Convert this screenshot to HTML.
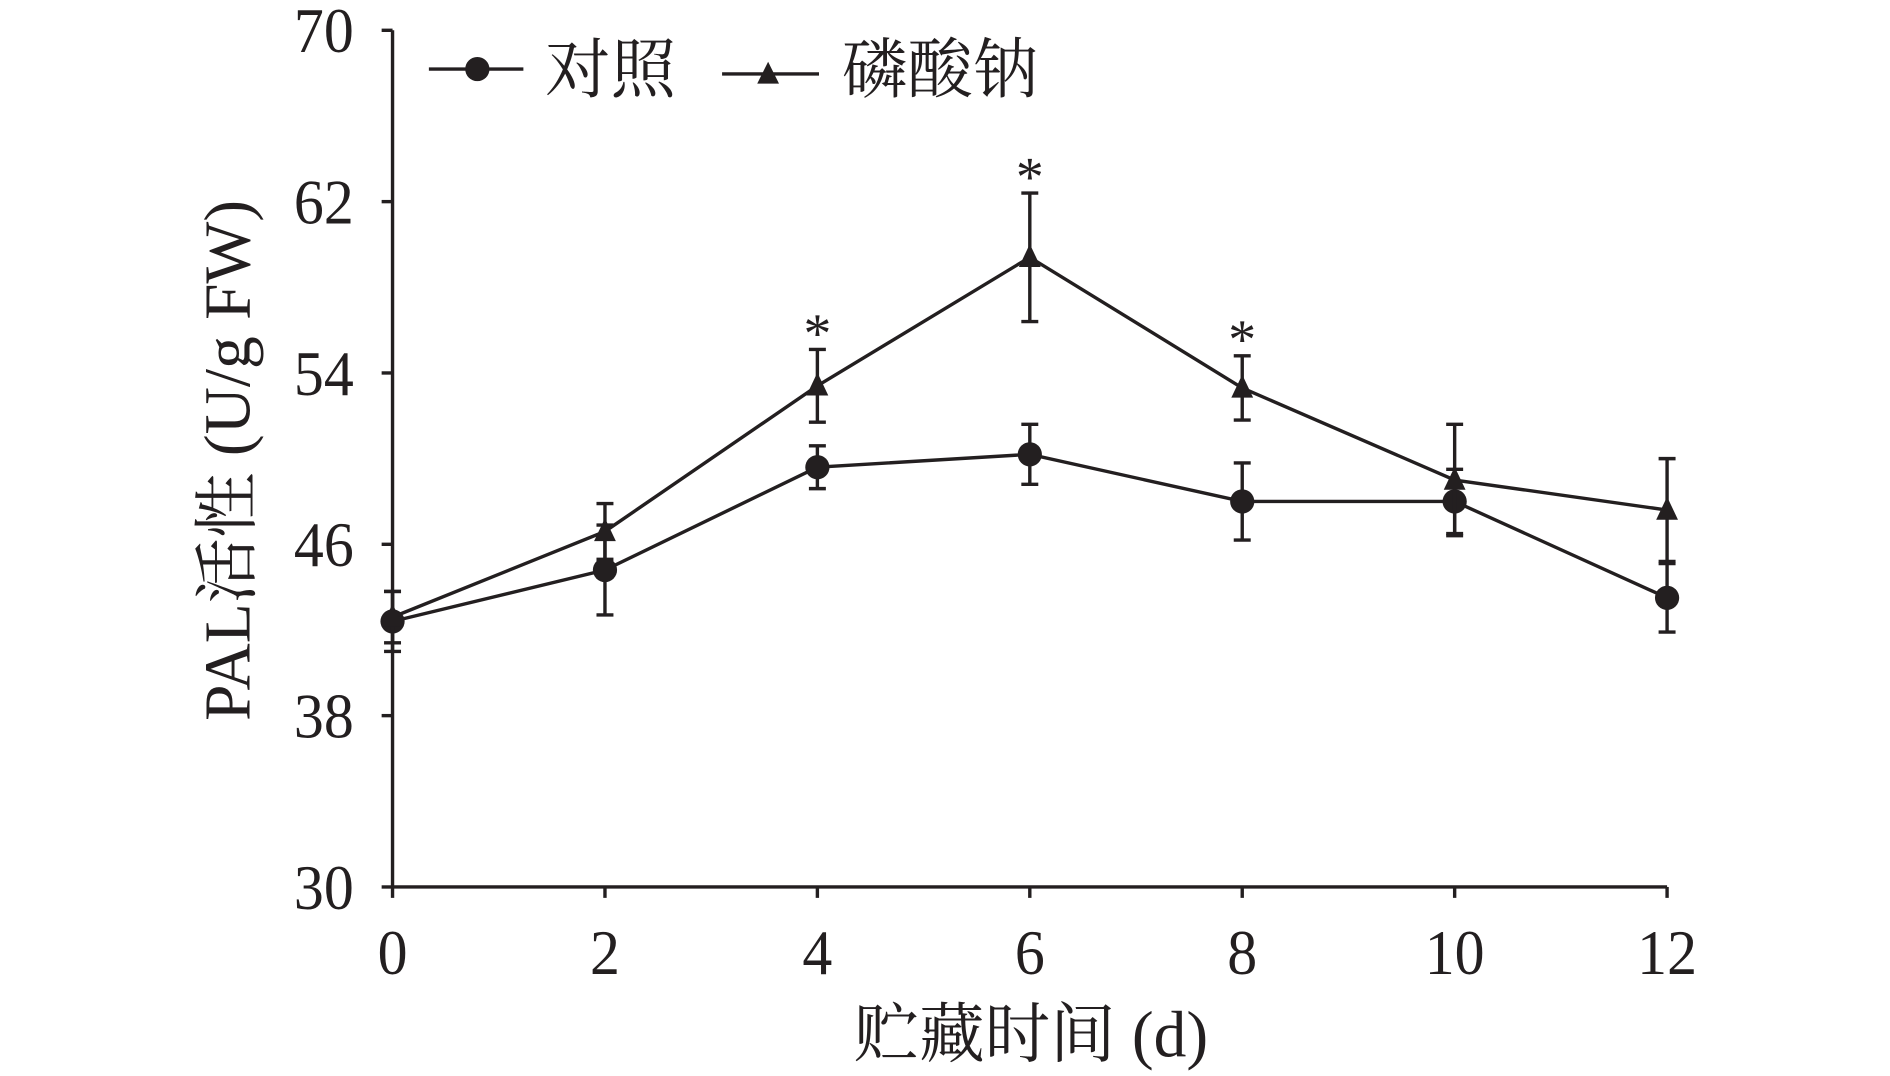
<!DOCTYPE html>
<html><head><meta charset="utf-8"><style>
html,body{margin:0;padding:0;background:#fff;width:1890px;height:1076px;overflow:hidden}
svg{display:block}
text{font-family:"Liberation Serif","Noto Serif CJK SC","Noto Sans CJK SC",serif;fill:#231f20}
</style></head><body>
<svg id="chart" width="1890" height="1076" viewBox="0 0 1560 888" preserveAspectRatio="none" xmlns="http://www.w3.org/2000/svg"></svg>
<script>
const days = [0, 2, 4, 6, 8, 10, 12];
const controlValues = [42.4, 44.8, 49.6, 50.2, 48.0, 48.0, 43.5];
const controlErrors = [1.4, 2.1, 1.0, 1.4, 1.8, 1.5, 1.6];
const phosphateValues = [42.6, 46.6, 53.4, 59.4, 53.3, 49.0, 47.6];
const phosphateErrors = [1.2, 1.3, 1.7, 3.0, 1.5, 2.6, 2.4];
const significant = [false, false, true, true, true, false, false];
const yTicks = [30, 38, 46, 54, 62, 70];
const xTicks = [0, 2, 4, 6, 8, 10, 12];

const svg = document.getElementById('chart');
const NS = 'http://www.w3.org/2000/svg';
const X0 = 324, X1 = 1376, Y0 = 732, Y1 = 25;
const xs = d => X0 + (d - 0) / 12 * (X1 - X0);
const ys = v => Y0 - (v - 30) / 40 * (Y0 - Y1);
const C = '#231f20';
function mk(tag, attrs, parent) {
  const e = document.createElementNS(NS, tag);
  for (const k in attrs) e.setAttribute(k, attrs[k]);
  (parent || svg).appendChild(e);
  return e;
}
let a = mk('line', {x1: X0, y1: Y1, x2: X0, y2: Y0, stroke: C, 'stroke-width': 2.8});


a = mk('line', {x1: X0, y1: Y0, x2: X1, y2: Y0, stroke: C, 'stroke-width': 2.8});


yTicks.forEach(t => {
  mk('line', {x1: X0 - 9, y1: ys(t), x2: X0, y2: ys(t), stroke: C, 'stroke-width': 2.8});
  const tx = mk('text', {x: 0, y: 0, 'text-anchor': 'end', 'font-size': 52, transform: `translate(${X0 - 32},${ys(t) + 18}) scale(0.95,1)`});
  tx.textContent = t;
  
  
});
xTicks.forEach(t => {
  mk('line', {x1: xs(t), y1: Y0, x2: xs(t), y2: Y0 + 9, stroke: C, 'stroke-width': 2.8});
  const tx = mk('text', {x: 0, y: 0, 'text-anchor': 'middle', 'font-size': 52, transform: `translate(${xs(t)},${Y0 + 72}) scale(0.95,1)`});
  tx.textContent = t;
  
  
});
let t = mk('text', {x: 851, y: 872, 'text-anchor': 'middle', 'font-size': 54});
t.textContent = '贮藏时间 (d)';


t = mk('text', {x: 0, y: 0, 'text-anchor': 'middle', 'font-size': 54, transform: 'translate(206,380) rotate(-90)'});
t.textContent = 'PAL活性 (U/g FW)';



function series(vals, errs, marker, name) {
  const g = mk('g', {});
  
  
  const pts = days.map((d, i) => xs(d) + ',' + ys(vals[i])).join(' ');
  mk('polyline', {points: pts, fill: 'none', stroke: C, 'stroke-width': 2.8}, g);
  days.forEach((d, i) => {
    const x = xs(d), top = ys(vals[i] + errs[i]), bot = ys(vals[i] - errs[i]);
    const eb = mk('path', {d: `M${x},${top}V${bot}M${x-7},${top}H${x+7}M${x-7},${bot}H${x+7}`, stroke: C, 'stroke-width': 2.8, fill: 'none'}, g);
    
    
    const y = ys(vals[i]);
    let m;
    if (marker === 'circle') m = mk('circle', {cx: x, cy: y, r: 10, fill: C}, g);
    else m = mk('path', {d: `M${x},${y-11}L${x+9},${y+8}L${x-9},${y+8}Z`, fill: C}, g);
    
    
  });
}
series(controlValues, controlErrors, 'circle', 'control');
series(phosphateValues, phosphateErrors, 'triangle', 'sodium-phosphate');
days.forEach((d, i) => {
  if (!significant[i]) return;
  const s = mk('text', {x: xs(d), y: ys(phosphateValues[i] + phosphateErrors[i]) + 2, 'text-anchor': 'middle', 'font-size': 46});
  s.textContent = '*';
  
  
});
const lg = mk('g', {});


mk('line', {x1: 354, y1: 57, x2: 432, y2: 57, stroke: C, 'stroke-width': 2.8}, lg);
mk('circle', {cx: 394, cy: 57, r: 10, fill: C}, lg);
let lt = mk('text', {x: 450, y: 76, 'font-size': 54}, lg);
lt.textContent = '对照';


mk('line', {x1: 596, y1: 61, x2: 676, y2: 61, stroke: C, 'stroke-width': 2.8}, lg);
mk('path', {d: 'M634,51L643,69L625,69Z', fill: C}, lg);
lt = mk('text', {x: 695, y: 76, 'font-size': 54}, lg);
lt.textContent = '磷酸钠';


</script>
</body></html>
